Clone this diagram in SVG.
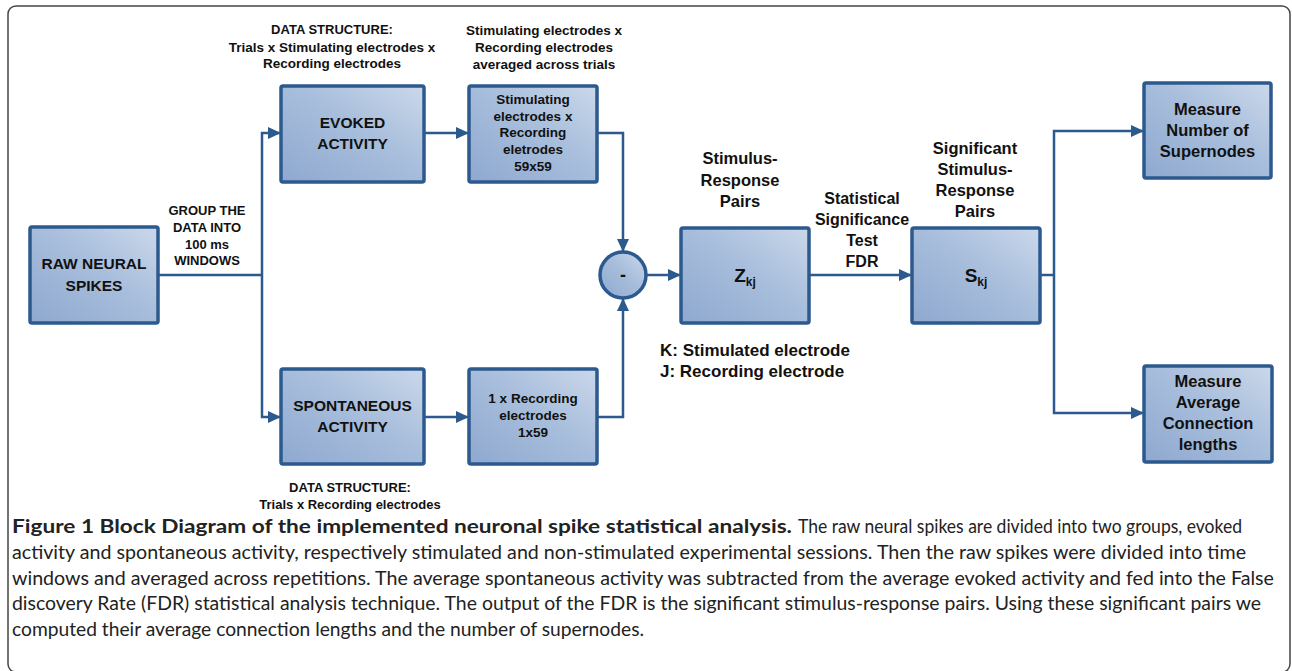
<svg xmlns="http://www.w3.org/2000/svg" width="1292" height="671" viewBox="0 0 1292 671">
<defs>
  <linearGradient id="g" x1="0" y1="1" x2="1" y2="0">
    <stop offset="0" stop-color="#8ea8cf"/>
    <stop offset="0.55" stop-color="#a8bedc"/>
    <stop offset="1" stop-color="#cbd8ea"/>
  </linearGradient>
  <marker id="arr" markerWidth="13" markerHeight="13" refX="12" refY="6.5" orient="auto" markerUnits="userSpaceOnUse">
    <path d="M0,0.5 L13,6.5 L0,12.5 z" fill="#2c5a8f"/>
  </marker>
  <style>
    .box{fill:url(#g);stroke:#2c5a8f;stroke-width:3.5}
    .t{font-family:"Liberation Sans",Arial,sans-serif;font-weight:bold;fill:#111;text-anchor:middle}
    .s13{font-size:13px}
    .s135{font-size:13.5px}
    .s155{font-size:15.5px}
    .s16{font-size:16px}
    .s165{font-size:16.5px}
    .conn{fill:none;stroke:#2c5a8f;stroke-width:2.5}
    .cap{font-family:Lato,"Open Sans","Liberation Sans",Arial,sans-serif;font-size:19.5px;fill:#222}
  </style>
</defs>
<rect x="8" y="6" width="1282" height="666" rx="8" fill="none" stroke="#444" stroke-width="1.5"/>

<g id="connectors">
  <path class="conn" d="M158,275 H262"/>
  <path class="conn" d="M262,275 V133 H280" marker-end="url(#arr)"/>
  <path class="conn" d="M262,275 V417 H280" marker-end="url(#arr)"/>
  <path class="conn" d="M424,133 H468" marker-end="url(#arr)"/>
  <path class="conn" d="M424,417 H468" marker-end="url(#arr)"/>
  <path class="conn" d="M597,133 H623 V251" marker-end="url(#arr)"/>
  <path class="conn" d="M597,417 H623 V299" marker-end="url(#arr)"/>
  <path class="conn" d="M647,275 H680" marker-end="url(#arr)"/>
  <path class="conn" d="M809,275 H911" marker-end="url(#arr)"/>
  <path class="conn" d="M1040,275 H1054"/>
  <path class="conn" d="M1054,275 V131 H1143" marker-end="url(#arr)"/>
  <path class="conn" d="M1054,275 V413 H1143" marker-end="url(#arr)"/>
</g>

<g id="raw">
  <rect class="box" x="30" y="227" width="128" height="96" rx="2"/>
  <text class="t s155" x="94" y="269">RAW NEURAL</text>
  <text class="t s155" x="94" y="291">SPIKES</text>
</g>
<g id="evoked">
  <rect class="box" x="281" y="86" width="143" height="96" rx="2"/>
  <text class="t s155" x="352.5" y="128">EVOKED</text>
  <text class="t s155" x="352.5" y="149">ACTIVITY</text>
</g>
<g id="stim">
  <rect class="box" x="469" y="86" width="128" height="96" rx="2"/>
  <text class="t s135" x="533" y="104">Stimulating</text>
  <text class="t s135" x="533" y="121">electrodes x</text>
  <text class="t s135" x="533" y="137">Recording</text>
  <text class="t s135" x="533" y="154">eletrodes</text>
  <text class="t s135" x="533" y="171">59x59</text>
</g>
<g id="spont">
  <rect class="box" x="281" y="369" width="143" height="95" rx="2"/>
  <text class="t s155" x="352.5" y="411">SPONTANEOUS</text>
  <text class="t s155" x="352.5" y="432">ACTIVITY</text>
</g>
<g id="rec">
  <rect class="box" x="469" y="369" width="128" height="95" rx="2"/>
  <text class="t s135" x="533" y="403">1 x Recording</text>
  <text class="t s135" x="533" y="420">electrodes</text>
  <text class="t s135" x="533" y="437">1x59</text>
</g>
<g id="minus">
  <circle class="box" cx="623" cy="275" r="23"/>
  <text class="t" x="623" y="281" font-size="18">-</text>
</g>
<g id="z">
  <rect class="box" x="681" y="228" width="128" height="95" rx="2"/>
  <text class="t" x="745" y="282" font-size="19">Z<tspan font-size="12" dy="4">kj</tspan></text>
</g>
<g id="s">
  <rect class="box" x="912" y="228" width="128" height="95" rx="2"/>
  <text class="t" x="976" y="282" font-size="19">S<tspan font-size="12" dy="4">kj</tspan></text>
</g>
<g id="measN">
  <rect class="box" x="1144" y="83" width="127" height="95" rx="2"/>
  <text class="t s165" x="1207.5" y="115">Measure</text>
  <text class="t s165" x="1207.5" y="136">Number of</text>
  <text class="t s165" x="1207.5" y="157">Supernodes</text>
</g>
<g id="measA">
  <rect class="box" x="1144" y="366" width="128" height="96" rx="2"/>
  <text class="t s165" x="1208" y="387">Measure</text>
  <text class="t s165" x="1208" y="408">Average</text>
  <text class="t s165" x="1208" y="429">Connection</text>
  <text class="t s165" x="1208" y="450">lengths</text>
</g>

<g id="labels">
  <text class="t s13" x="332" y="34">DATA STRUCTURE:</text>
  <text class="t s135" x="332" y="52">Trials x Stimulating electrodes x</text>
  <text class="t s135" x="332" y="68">Recording electrodes</text>
  <text class="t s135" x="544" y="35">Stimulating electrodes x</text>
  <text class="t s135" x="544" y="52">Recording electrodes</text>
  <text class="t s135" x="544" y="69">averaged across trials</text>
  <text class="t s13" x="207" y="215">GROUP THE</text>
  <text class="t s13" x="207" y="232">DATA INTO</text>
  <text class="t s13" x="207" y="249">100 ms</text>
  <text class="t s13" x="207" y="265">WINDOWS</text>
  <text class="t s165" x="740" y="164">Stimulus-</text>
  <text class="t s165" x="740" y="186">Response</text>
  <text class="t s165" x="740" y="207">Pairs</text>
  <text class="t s16" x="862" y="204">Statistical</text>
  <text class="t s16" x="862" y="225">Significance</text>
  <text class="t s16" x="862" y="246">Test</text>
  <text class="t s16" x="862" y="267">FDR</text>
  <text class="t s165" x="975" y="154">Significant</text>
  <text class="t s165" x="975" y="175">Stimulus-</text>
  <text class="t s165" x="975" y="196">Response</text>
  <text class="t s165" x="975" y="217">Pairs</text>
  <text class="t" x="660" y="356" font-size="17" style="text-anchor:start">K: Stimulated electrode</text>
  <text class="t" x="660" y="377" font-size="17" style="text-anchor:start">J: Recording electrode</text>
  <text class="t s13" x="350" y="492">DATA STRUCTURE:</text>
  <text class="t s13" x="350" y="509">Trials x Recording electrodes</text>
</g>

<g id="caption">
  <text class="cap" x="12" y="533" font-weight="bold" fill="#111" textLength="780" lengthAdjust="spacingAndGlyphs">Figure 1 Block Diagram of the implemented neuronal spike statistical analysis.</text>
  <text class="cap" x="798" y="533" font-size="18" textLength="444" lengthAdjust="spacingAndGlyphs">The raw neural spikes are divided into two groups, evoked</text>
  <text class="cap" x="12" y="559" textLength="1234" lengthAdjust="spacingAndGlyphs">activity and spontaneous activity, respectively stimulated and non-stimulated experimental sessions. Then the raw spikes were divided into time</text>
  <text class="cap" x="12" y="585" textLength="1262" lengthAdjust="spacingAndGlyphs">windows and averaged across repetitions. The average spontaneous activity was subtracted from the average evoked activity and fed into the False</text>
  <text class="cap" x="12" y="610" textLength="1249" lengthAdjust="spacingAndGlyphs">discovery Rate (FDR) statistical analysis technique. The output of the FDR is the significant stimulus-response pairs. Using these significant pairs we</text>
  <text class="cap" x="12" y="636" textLength="632" lengthAdjust="spacingAndGlyphs">computed their average connection lengths and the number of supernodes.</text>
</g>
</svg>
